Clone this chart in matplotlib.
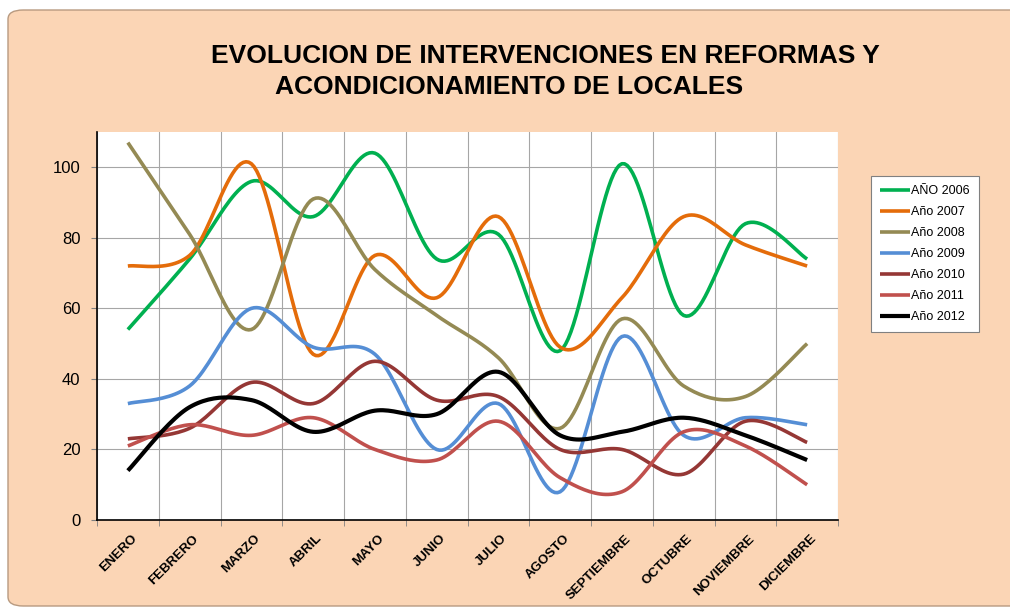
import matplotlib
matplotlib.use("Agg")
import matplotlib.pyplot as plt
import matplotlib.transforms as mtransforms
from matplotlib.patches import FancyBboxPatch
import numpy as np

plt.rcParams['font.family'] = ['Liberation Sans', 'DejaVu Sans']

months = ['ENERO', 'FEBRERO', 'MARZO', 'ABRIL', 'MAYO', 'JUNIO', 'JULIO',
          'AGOSTO', 'SEPTIEMBRE', 'OCTUBRE', 'NOVIEMBRE', 'DICIEMBRE']
y2006 = [54, 74, 96, 86, 104, 74, 81, 48, 101, 58, 84, 74]
y2007 = [72, 75, 101, 47, 75, 63, 86, 49, 63, 86, 78, 72]
y2008 = [107, 81, 54, 91, 71, 58, 46, 26, 57, 38, 35, 50]
y2009 = [33, 38, 60, 49, 47, 20, 33, 8, 52, 24, 29, 27]
y2010 = [23, 26, 39, 33, 45, 34, 35, 20, 20, 13, 28, 22]
y2011 = [21, 27, 24, 29, 20, 17, 28, 12, 8, 25, 21, 10]
y2012 = [14, 32, 34, 25, 31, 30, 42, 24, 25, 29, 24, 17]

series = [('AÑO 2006', y2006, '#00B050'),
          ('Año 2007', y2007, '#E46C0A'),
          ('Año 2008', y2008, '#948A54'),
          ('Año 2009', y2009, '#558ED5'),
          ('Año 2010', y2010, '#953735'),
          ('Año 2011', y2011, '#C0504D'),
          ('Año 2012', y2012, '#000000')]


def smooth(x, y, n=24):
    # excel-like smoothed line: bezier through the points
    pts = np.column_stack([x, y]).astype(float)
    P = np.vstack([pts[0], pts, pts[-1]])
    out = []
    t = np.linspace(0, 1, n)[:, None]
    for i in range(len(pts) - 1):
        p0, p1, p2, p3 = P[i], P[i + 1], P[i + 2], P[i + 3]
        c1 = p1 + (p2 - p0) / 6
        c2 = p2 - (p3 - p1) / 6
        seg = (1 - t) ** 3 * p1 + 3 * (1 - t) ** 2 * t * c1 \
            + 3 * (1 - t) * t ** 2 * c2 + t ** 3 * p2
        out.append(seg if i == 0 else seg[1:])
    out = np.vstack(out)
    return out[:, 0], out[:, 1]


fig = plt.figure(figsize=(10.1, 6.1), dpi=100)
fig.patch.set_facecolor('white')

# peach chart area with rounded corner
bg = FancyBboxPatch((8 / 1010, 4 / 610), 1.2, 596 / 610,
                    boxstyle="round,pad=0,rounding_size=0.015",
                    transform=fig.transFigure, facecolor='#FBD5B5',
                    edgecolor='#B89A80', linewidth=1.0, zorder=-5)
fig.patches.append(bg)

ax = fig.add_axes([97 / 1010, 1 - 520 / 610, 741 / 1010, 388 / 610])
ax.set_facecolor('white')

x = np.arange(len(months))
for label, vals, color in series:
    sx, sy = smooth(x, vals)
    lw = 3.0 if color == '#000000' else 2.6
    ax.plot(sx, sy, color=color, lw=lw, label=label,
            solid_capstyle='butt', zorder=3)

ax.set_xlim(-0.5, len(months) - 0.5)
ax.set_ylim(0, 110)
ax.set_yticks(range(0, 101, 20))
ax.set_xticks(x)
ax.set_xticks(np.arange(-0.5, len(months), 1.0), minor=True)
ax.tick_params(axis='x', which='major', length=0, pad=9)
ax.tick_params(axis='x', which='minor', length=4, color='#808080')
ax.tick_params(axis='y', length=4, color='#808080', labelsize=12, pad=8)

offset = mtransforms.ScaledTranslation(3 / 100, 0, fig.dpi_scale_trans)
ax.set_xticklabels(months, rotation=45, ha='right', va='top',
                   rotation_mode='anchor', fontsize=9.5, fontweight='bold')
for lab in ax.get_xticklabels():
    lab.set_transform(lab.get_transform() + offset)

ax.grid(True, axis='y', color='#A6A6A6', lw=0.8, zorder=1)
ax.grid(True, axis='x', which='minor', color='#A6A6A6', lw=0.8, zorder=1)
ax.grid(False, axis='x', which='major')
for s in ['top', 'right']:
    ax.spines[s].set_visible(False)
for s in ['left', 'bottom']:
    ax.spines[s].set_color('black')
    ax.spines[s].set_linewidth(1.2)

fig.text(545 / 1010, 1 - 56 / 610, 'EVOLUCION DE INTERVENCIONES EN REFORMAS Y',
         ha='center', va='center', fontsize=19, fontweight='bold')
fig.text(509 / 1010, 1 - 87 / 610, 'ACONDICIONAMIENTO DE LOCALES',
         ha='center', va='center', fontsize=19, fontweight='bold')

leg = fig.legend(loc='upper left', bbox_to_anchor=(865 / 1010, 1 - 170 / 610),
                 fontsize=9, frameon=True, fancybox=False, handlelength=2.4,
                 handletextpad=0.1, labelspacing=0.72, borderpad=0.7,
                 framealpha=1)
leg.get_frame().set_edgecolor('#808080')
leg.get_frame().set_linewidth(0.8)

fig.savefig('out.png', dpi=100)
